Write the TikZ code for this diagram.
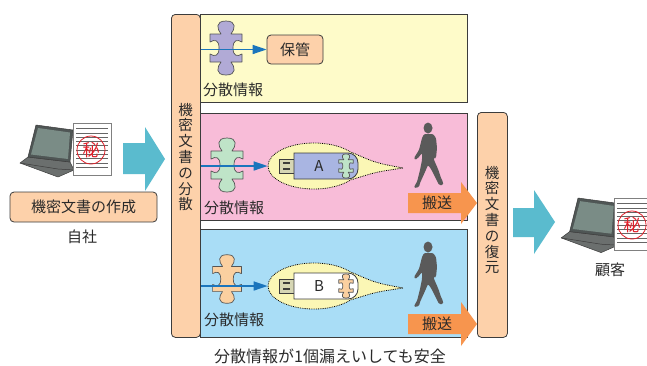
\documentclass[tikz,border=0pt]{standalone}
\usepackage{fontspec}
\setmainfont{Noto Sans CJK JP}
\usetikzlibrary{shapes.geometric,arrows.meta}

\definecolor{edge}{HTML}{3C3C3C}
\definecolor{ink}{HTML}{2A2A2A}
\definecolor{peach}{HTML}{FDD1AA}
\definecolor{panelY}{HTML}{FEFBC9}
\definecolor{panelP}{HTML}{F8BCD8}
\definecolor{panelB}{HTML}{A9DDF6}
\definecolor{teal}{HTML}{5ABBCE}
\definecolor{carry}{HTML}{F7954E}
\definecolor{flowblue}{HTML}{1B75BC}
\definecolor{pieceL}{HTML}{B1AAD6}
\definecolor{pieceM}{HTML}{BFE4C8}
\definecolor{pieceP}{HTML}{FBD0A0}
\definecolor{pieceline}{HTML}{555555}
\definecolor{bubble}{HTML}{FBF7B5}
\definecolor{usbA}{HTML}{A9B5E2}
\definecolor{plug}{HTML}{D6D6B4}
\definecolor{walkergray}{HTML}{5A5A5A}
\definecolor{stamp}{HTML}{E0202A}
\definecolor{bezel}{HTML}{4F5655}
\definecolor{screen}{HTML}{7A8C86}
\definecolor{deck}{HTML}{6B6F6E}

\tikzset{
  panel/.style={draw=edge, line width=0.8pt, anchor=north west, inner sep=0pt},
  bar/.style={draw=edge, line width=0.8pt, fill=peach, rounded corners=4pt, anchor=north west, inner sep=0pt},
  lbl/.style={text=ink, font=\fontsize{15}{18}\selectfont, inner sep=0pt},
  vlbl/.style={text=ink, font=\fontsize{14.5}{15.8}\selectfont, align=center, inner sep=0pt},
  tagbox/.style={draw=edge, line width=0.8pt, fill=peach, rounded corners=4pt, inner sep=0pt},
  flow/.style={draw=flowblue, line width=1.6pt, -{Triangle[length=14pt,width=9pt]}},
  callout/.style={ellipse, fill=bubble, draw=black, densely dotted, line width=0.8pt,
    minimum width=92pt, minimum height=46pt, inner sep=0pt},
  % jigsaw piece: knobs top and bottom, sockets left and right
  pics/piece/.style={code={
    \filldraw[fill=#1, draw=pieceline, line width=0.7pt, line join=round]
      (-16,-14) -- (-5,-14) .. controls (-9,-19) and (-11,-27) .. (0,-27)
        .. controls (11,-27) and (9,-19) .. (5,-14)
      -- (16,-14) -- (16,-6) .. controls (11,-9) and (7,-8) .. (7,0)
        .. controls (7,8) and (11,9) .. (16,6)
      -- (16,14) -- (5,14) .. controls (9,19) and (11,27) .. (0,27)
        .. controls (-11,27) and (-9,19) .. (-5,14)
      -- (-16,14) -- (-16,6) .. controls (-11,9) and (-7,8) .. (-7,0)
        .. controls (-7,-8) and (-11,-9) .. (-16,-6) -- cycle;
  }},
  pics/walker/.style={code={
    \fill[walkergray] (15,6) ellipse[x radius=4.5, y radius=5.5];
    \fill[walkergray, rounded corners=1.2pt]
      (11,12) -- (20,12) -- (23,16) -- (24,26) -- (23,36) -- (21,37) -- (20,30)
      -- (21,38) -- (25,47) -- (28,56) -- (30,60) -- (30,63) -- (26,63) -- (23,57)
      -- (18,47) -- (15,43) -- (12,50) -- (7,61) -- (6,65) -- (1,66) -- (2,63)
      -- (4,60) -- (7,48) -- (9,38) -- (9,31) -- (5,36) -- (2,38) -- (1,36)
      -- (6,28) -- (9,16) -- cycle;
  }},
  pics/laptop/.style={code={
    \filldraw[fill=deck, draw=edge, line width=0.5pt, line join=round]
      (-8,32) -- (34,37) -- (38,45) -- (22,52) -- (-16,38) -- cycle;
    \draw[edge, line width=0.5pt] (-16,38) -- (22,44) -- (38,45);
    \filldraw[fill=bezel, draw=edge, line width=0.5pt, line join=round]
      (0,0) -- (37,5) -- (34,37) -- (-8,32) -- cycle;
    \fill[screen] (2,3) -- (34,7.5) -- (32,34) -- (-5,29.5) -- cycle;
  }},
  pics/secretdoc/.style={code={
    \filldraw[fill=white, draw=gray, line width=0.6pt] (0,0) rectangle (38,52);
    \foreach \k in {0,...,9} {
      \draw[gray!80!black, line width=0.6pt] (3,{5.5+4.3*\k}) -- (35,{5.5+4.3*\k});
    }
    \draw[stamp, line width=0.8pt] (18,27) circle[radius=14];
    \node[text=stamp, font=\fontsize{17}{17}\selectfont, inner sep=0pt] at (18,27) {秘};
  }},
}

\begin{document}
\begin{tikzpicture}[x=1pt, y=-1pt]
\fill[white] (0,0) rectangle (647,365);
\useasboundingbox (0,0) rectangle (647,365);
\clip (0,0) rectangle (647,365);

% ---------- own office ----------
\pic at (36,125) {laptop};
\pic at (73,123) {secretdoc};
\node[tagbox, minimum width=147pt, minimum height=30pt] (make) at (83.5,207) {};
\node[lbl] (maketxt) at (make.center) {機密文書の作成};
\node[lbl] (own) at (82,237) {自社};

% big arrow into the split stage
\fill[teal] (123,143) -- (145,143) -- (145,127) -- (165,159) -- (145,191) -- (145,174) -- (123,174) -- cycle;

% ---------- stage panels ----------
\node[panel, fill=panelY, minimum width=267pt, minimum height=88pt] (pY) at (200,14) {};
\node[panel, fill=panelP, minimum width=267pt, minimum height=107pt] (pP) at (200,113) {};
\node[panel, fill=panelB, minimum width=267pt, minimum height=108pt] (pB) at (200,229) {};

% split bar and restore bar
\node[bar, minimum width=29pt, minimum height=323pt] (split) at (171,14) {};
\node[vlbl] (splittxt) at (185.5,157) {機\\密\\文\\書\\の\\分\\散};
\node[bar, minimum width=30pt, minimum height=225pt] (restore) at (477,112) {};
\node[vlbl] (restoretxt) at (492,220) {機\\密\\文\\書\\の\\復\\元};

% ---------- panel 1: keep ----------
\pic at (226,48) {piece=pieceL};
\node[tagbox, minimum width=56pt, minimum height=29pt] (keep) at (295,49.5) {};
\node[lbl] (keeptxt) at (keep.center) {保管};
\draw[flow] (split.east |- keep.west) -- (keep.west);
\node[lbl, anchor=west] (infoY) at (203,90) {分散情報};

% ---------- panel 2: carrier A ----------
\pic at (227,165) {piece=pieceM};
\node[callout] (eA) at (314,166) {};
\coordinate (tipA) at (403,168);
\fill[bubble] (eA.20) .. controls (376,163) .. (tipA) .. controls (376,172) .. (eA.-20) -- (eA.center) -- cycle;
\draw[black, densely dotted, line width=0.8pt] (eA.20) .. controls (376,163) .. (tipA) .. controls (376,172) .. (eA.-20);
\filldraw[fill=plug, draw=edge, line width=0.7pt] (279,159) rectangle (294,173);
\fill[edge] (283,162) rectangle (290,164.3);
\fill[edge] (283,167.7) rectangle (290,170);
\filldraw[fill=usbA, draw=edge, line width=0.8pt] (294,153) [rounded corners=10pt] -- (358,153) -- (358,179) [sharp corners] -- (294,179) -- cycle;
\node[text=ink, font=\fontsize{15}{15}\selectfont, inner sep=0pt] (labA) at (319,166) {A};
\pic[scale=0.45] at (346,166) {piece=pieceM};
\draw[flow] (split.east |- eA.west) -- (eA.west);
\node[lbl, anchor=west] (infoP) at (204,208) {分散情報};
\pic at (413,122) {walker};
\fill[carry] (408,193) -- (461,193) -- (461,182) -- (477,203) -- (461,224) -- (461,213) -- (408,213) -- cycle;
\node[lbl] (carryA) at (437,203) {搬送};

% ---------- panel 3: carrier B ----------
\pic[scale=0.9] at (227,279) {piece=pieceP};
\node[callout] (eB) at (314,286) {};
\coordinate (tipB) at (403,288);
\fill[bubble] (eB.20) .. controls (376,283) .. (tipB) .. controls (376,292) .. (eB.-20) -- (eB.center) -- cycle;
\draw[black, densely dotted, line width=0.8pt] (eB.20) .. controls (376,283) .. (tipB) .. controls (376,292) .. (eB.-20);
\filldraw[fill=plug, draw=edge, line width=0.7pt] (279,279) rectangle (294,293);
\fill[edge] (283,282) rectangle (290,284.3);
\fill[edge] (283,287.7) rectangle (290,290);
\filldraw[fill=white, draw=edge, line width=0.8pt] (294,273) [rounded corners=10pt] -- (358,273) -- (358,299) [sharp corners] -- (294,299) -- cycle;
\node[text=ink, font=\fontsize{15}{15}\selectfont, inner sep=0pt] (labB) at (319,286) {B};
\pic[scale=0.45] at (346,286) {piece=pieceP};
\draw[flow] (split.east |- eB.west) -- (eB.west);
\node[lbl, anchor=west] (infoB) at (204,320) {分散情報};
\pic at (413,241) {walker};
\fill[carry] (408,314) -- (461,314) -- (461,302) -- (477,324) -- (461,346) -- (461,334) -- (408,334) -- cycle;
\node[lbl] (carryB) at (437,324) {搬送};

% ---------- customer ----------
\fill[teal] (513,208) -- (534,208) -- (534,190) -- (555,222) -- (534,254) -- (534,237) -- (513,237) -- cycle;
\pic[scale=1.05] at (578,198) {laptop};
\pic at (614,198) {secretdoc};
\node[lbl] (client) at (610,270) {顧客};

% ---------- caption ----------
\node[text=ink, font=\fontsize{16}{18}\selectfont, inner sep=0pt] (note) at (330,356) {分散情報が1個漏えいしても安全};
\end{tikzpicture}
\end{document}
